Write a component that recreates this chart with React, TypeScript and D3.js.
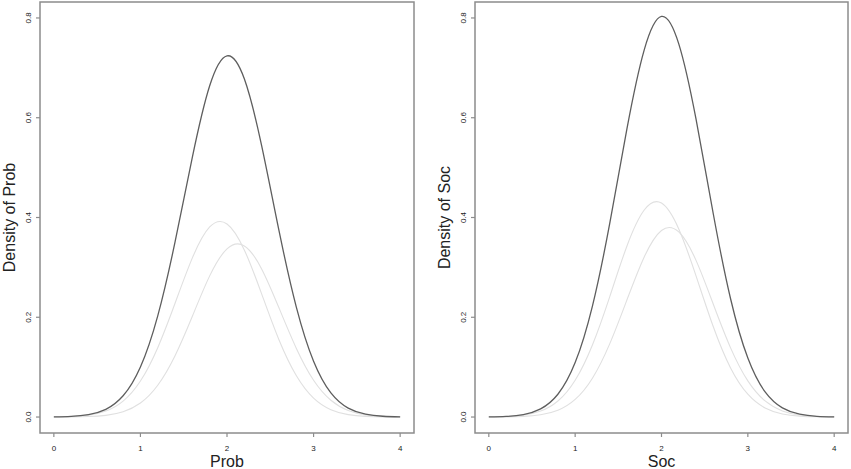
import { useMemo } from 'react';
import * as d3 from 'd3';

// x grid the densities were read at
const xs = [0, 0.2, 0.4, 0.6, 0.8, 1.0, 1.2, 1.4, 1.6, 1.8, 2.0, 2.2, 2.4, 2.6, 2.8, 3.0, 3.2, 3.4, 3.6, 3.8, 4.0];

// Prob panel
const probTotal = [0.0003, 0.0013, 0.0048, 0.0154, 0.0426, 0.1003, 0.2028, 0.351, 0.521, 0.664, 0.724, 0.678, 0.544, 0.374, 0.221, 0.112, 0.0485, 0.018, 0.0057, 0.0016, 0.0004];
const probLow = [0.00025, 0.00105, 0.00386, 0.012, 0.0319, 0.0721, 0.139, 0.228, 0.319, 0.381, 0.387, 0.335, 0.247, 0.155, 0.0833, 0.038, 0.0148, 0.0049, 0.00139, 0.00033, 0.00007];
const probHigh = [0.00004, 0.00022, 0.00093, 0.00342, 0.0107, 0.0282, 0.0638, 0.123, 0.202, 0.283, 0.337, 0.343, 0.297, 0.219, 0.138, 0.0737, 0.0337, 0.0131, 0.00434, 0.00123, 0.0003];

// Soc panel
const socTotal = [0.0003, 0.0013, 0.005, 0.0164, 0.0457, 0.1091, 0.2224, 0.3877, 0.578, 0.736, 0.803, 0.748, 0.597, 0.407, 0.2371, 0.1182, 0.0504, 0.0184, 0.0057, 0.0015, 0.0004];
const socLow = [0.00023, 0.00101, 0.00376, 0.0119, 0.0321, 0.0738, 0.1445, 0.241, 0.343, 0.415, 0.429, 0.377, 0.283, 0.181, 0.0984, 0.0457, 0.0181, 0.00608, 0.00175, 0.00043, 0.00009];
const socHigh = [0.00006, 0.0003, 0.00125, 0.00448, 0.0136, 0.0353, 0.0779, 0.1467, 0.235, 0.321, 0.374, 0.371, 0.314, 0.226, 0.1387, 0.0725, 0.0323, 0.0123, 0.00397, 0.0011, 0.00026];

const xTicks = [0, 1, 2, 3, 4];
const yTicks = [0, 0.2, 0.4, 0.6, 0.8];

const FONT = '"Liberation Sans", Arial, Helvetica, sans-serif';

interface PanelProps {
  left: number;
  right: number;
  top: number;
  bottom: number;
  name: string;
  total: number[];
  low: number[];
  high: number[];
}

function Panel({ left, right, top, bottom, name, total, low, high }: PanelProps) {
  const x = d3.scaleLinear().domain([-0.16, 4.16]).range([left, right]);
  const y = d3.scaleLinear().domain([-0.032, 0.832]).range([bottom, top]);

  const line = d3
    .line<number>()
    .x((_, i) => x(xs[i]))
    .y((d) => y(d))
    .curve(d3.curveNatural);

  const midX = (left + right) / 2;
  const midY = (top + bottom) / 2;

  return (
    <g>
      <path d={line(low) ?? ''} fill="none" stroke="#e0e0e0" strokeWidth={1.1} />
      <path d={line(high) ?? ''} fill="none" stroke="#e0e0e0" strokeWidth={1.1} />
      <path d={line(total) ?? ''} fill="none" stroke="#5e5e5e" strokeWidth={1.3} />

      <rect x={left} y={top} width={right - left} height={bottom - top} fill="none" stroke="#8c8c8c" strokeWidth={1.5} />

      {xTicks.map((t) => (
        <g key={`x${t}`}>
          <line x1={x(t)} x2={x(t)} y1={bottom} y2={bottom + 4} stroke="#8c8c8c" strokeWidth={1.2} />
          <text x={x(t)} y={bottom + 18} textAnchor="middle" fontSize={8} fontFamily={FONT} fill="#222">
            {t}
          </text>
        </g>
      ))}
      {yTicks.map((t) => (
        <g key={`y${t}`}>
          <line x1={left - 4} x2={left} y1={y(t)} y2={y(t)} stroke="#8c8c8c" strokeWidth={1.2} />
          <text
            transform={`translate(${left - 9},${y(t)}) rotate(-90)`}
            textAnchor="middle"
            fontSize={8}
            fontFamily={FONT}
            fill="#222"
          >
            {t.toFixed(1)}
          </text>
        </g>
      ))}

      <text x={midX} y={bottom + 34} textAnchor="middle" fontSize={16} fontFamily={FONT} fill="#222">
        {name}
      </text>
      <text
        transform={`translate(${left - 25},${midY}) rotate(-90)`}
        textAnchor="middle"
        fontSize={16}
        fontFamily={FONT}
        fill="#222"
      >
        {`Density of ${name}`}
      </text>
    </g>
  );
}

export default function App() {
  const width = 851;
  const height = 469;
  const panels = useMemo(
    () => [
      { left: 40, right: 414, name: 'Prob', total: probTotal, low: probLow, high: probHigh },
      { left: 475, right: 848, name: 'Soc', total: socTotal, low: socLow, high: socHigh },
    ],
    [],
  );

  return (
    <div style={{ position: 'absolute', left: 0, top: 0 }}>
      <svg width={width} height={height} style={{ display: 'block', background: '#fff' }}>
        {panels.map((p) => (
          <Panel key={p.name} top={2} bottom={433} {...p} />
        ))}
      </svg>
    </div>
  );
}
